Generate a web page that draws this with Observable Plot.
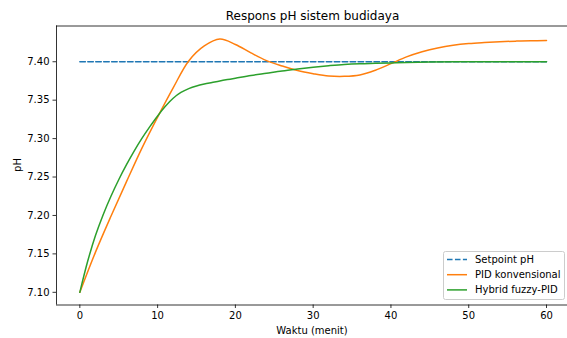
<!DOCTYPE html>
<html><head><meta charset="utf-8">
<script src="https://cdn.jsdelivr.net/npm/d3@7"></script>
<script src="https://cdn.jsdelivr.net/npm/@observablehq/plot@0.6"></script>
<style>
body{margin:0;background:#fff;}
#chart svg{font-family:"DejaVu Sans",sans-serif;background:#fff;}
</style>
</head><body><div id="chart"></div>
<script>
const title = "Respons pH sistem budidaya";
const xLabel = "Waktu (menit)";
const yLabel = "pH";
const seriesNames = ["Setpoint pH", "PID konvensional", "Hybrid fuzzy-PID"];
const seriesColors = ["#1f77b4", "#ff7f0e", "#2ca02c"];

const setpointValue = 7.40;
const setpointTime = [0, 60];

const pidTime = [0,2,4,6,8,10,12,14,16,18,20,22,24,26,28,30,32,34,36,38,40,42,44,46,48,50,52,54,56,58,60];
const pidValues = [7.100,7.152,7.199,7.244,7.288,7.328,7.366,7.401,7.4205,7.4295,7.4225,7.4115,7.4015,7.3945,7.3885,7.3845,7.3815,7.381,7.3828,7.389,7.3975,7.4063,7.413,7.418,7.4215,7.4237,7.425,7.426,7.4268,7.4273,7.4277];

const fuzzyTime = [0,1,2,3,4,5,6,7,8,9,10,11,12,13,14,15,16,17,18,19,20,22,24,26,28,30,32,34,36,38,40,42,45,50,55,60];
const fuzzyValues = [7.100,7.140,7.1735,7.201,7.225,7.2465,7.266,7.284,7.3005,7.3155,7.3295,7.342,7.3525,7.360,7.365,7.3685,7.371,7.373,7.375,7.3768,7.3785,7.382,7.385,7.388,7.3905,7.3928,7.3948,7.3965,7.3975,7.398,7.3985,7.399,7.3995,7.400,7.400,7.400];

const xTicks = [0,10,20,30,40,50,60];
const yTicks = [7.10,7.15,7.20,7.25,7.30,7.35,7.40];
const xDomain = [-3.0, 62.7];
const yDomain = [7.0835, 7.4465];

const setpointData = setpointTime.map(t => ({t, v: setpointValue}));
const pidData = pidTime.map((t, i) => ({t, v: pidValues[i]}));
const fuzzyData = fuzzyTime.map((t, i) => ({t, v: fuzzyValues[i]}));

const W = 567, H = 338;
const mL = 56, mR = 0, mT = 25.5, mB = 33.5;

const chart = Plot.plot({
  width: W, height: H,
  marginLeft: mL, marginRight: mR, marginTop: mT, marginBottom: mB,
  style: {fontFamily: "DejaVu Sans", color: "#000", background: "#fff"},
  x: {domain: xDomain},
  y: {domain: yDomain},
  marks: [
    Plot.line(setpointData, {x: "t", y: "v", stroke: seriesColors[0], strokeWidth: 1.5, strokeDasharray: "5.55,2.4"}),
    Plot.line(pidData, {x: "t", y: "v", stroke: seriesColors[1], strokeWidth: 1.5, curve: "catmull-rom"}),
    Plot.line(fuzzyData, {x: "t", y: "v", stroke: seriesColors[2], strokeWidth: 1.5, curve: "catmull-rom"}),
    Plot.ruleX([xDomain[0]], {stroke: "#000", strokeWidth: 0.8}),
    Plot.ruleY([yDomain[0]], {stroke: "#000", strokeWidth: 0.8}),
    Plot.ruleY([yDomain[1]], {stroke: "#000", strokeWidth: 0.8}),
    Plot.axisX({ticks: xTicks, tickSize: 3.5, tickPadding: 3.5, fontSize: 10, label: null, stroke: "#000", strokeWidth: 0.8}),
    Plot.axisY({ticks: yTicks, tickSize: 3.5, tickPadding: 3.5, fontSize: 10, label: null, tickFormat: d3.format(".2f"), stroke: "#000", strokeWidth: 0.8})
  ]
});

document.getElementById("chart").appendChild(chart);

const svg = d3.select(chart);
svg.append("text").attr("x", 312.5).attr("y", 15.5).attr("text-anchor", "middle")
  .attr("dominant-baseline", "central").attr("font-size", 12).attr("fill", "#000").text(title);
svg.append("text").attr("x", 312).attr("y", 330.5).attr("text-anchor", "middle")
  .attr("dominant-baseline", "central").attr("font-size", 10).attr("fill", "#000").text(xLabel);
svg.append("text").attr("transform", "translate(17.5,165) rotate(-90)").attr("text-anchor", "middle")
  .attr("dominant-baseline", "central").attr("font-size", 10).attr("fill", "#000").text(yLabel);

const lg = svg.append("g");
lg.append("rect").attr("x", 443.5).attr("y", 251.5).attr("width", 121).attr("height", 48).attr("rx", 2)
  .style("fill", "#ffffff").style("fill-opacity", 0.8).style("stroke", "#cccccc").style("stroke-width", "1px");
const dashes = ["5.55,2.4", null, null];
seriesNames.forEach((name, i) => {
  const y = 259.5 + i * 15.2;
  const ln = lg.append("line").attr("x1", 447).attr("x2", 467).attr("y1", y).attr("y2", y)
    .style("stroke", seriesColors[i]).style("stroke-width", "1.5px");
  if (dashes[i]) ln.style("stroke-dasharray", dashes[i]);
  lg.append("text").attr("x", 475).attr("y", y).attr("dominant-baseline", "central")
    .style("text-anchor", "start").attr("font-size", 10).attr("fill", "#000").text(name);
});
</script>
</body></html>
